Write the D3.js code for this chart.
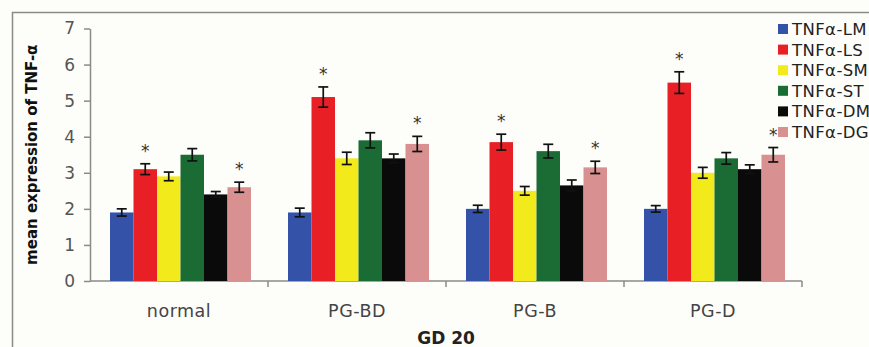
<!DOCTYPE html>
<html>
<head>
<meta charset="utf-8">
<script src="https://cdn.jsdelivr.net/npm/d3@7"></script>
<style>
  body { margin:0; background:#fdfdfa; }
  svg { display:block; }
</style>
</head>
<body>
<svg id="chart" width="869" height="347"></svg>
<script>
// data
const categories = ['normal', 'PG-BD', 'PG-B', 'PG-D'];
const seriesNames = ['TNF\u03b1-LM', 'TNF\u03b1-LS', 'TNF\u03b1-SM', 'TNF\u03b1-ST', 'TNF\u03b1-DM', 'TNF\u03b1-DG'];
const seriesColors = ['#3352a8', '#e82026', '#f2ea1a', '#1b6b34', '#0a0a0a', '#d99090'];
const means = [
  [1.9, 1.9, 2.0, 2.0],    // LM
  [3.1, 5.1, 3.85, 5.5],   // LS
  [2.9, 3.4, 2.5, 3.0],    // SM
  [3.5, 3.9, 3.6, 3.4],    // ST
  [2.4, 3.4, 2.65, 3.1],   // DM
  [2.6, 3.8, 3.15, 3.5]    // DG
];
const errors = [
  [0.1, 0.12, 0.1, 0.09],
  [0.15, 0.28, 0.22, 0.3],
  [0.12, 0.17, 0.12, 0.15],
  [0.17, 0.21, 0.19, 0.16],
  [0.08, 0.12, 0.15, 0.12],
  [0.14, 0.21, 0.17, 0.2]
];
const marked = [
  [0, 0, 0, 0],
  [1, 1, 1, 1],
  [0, 0, 0, 0],
  [0, 0, 0, 0],
  [0, 0, 0, 0],
  [1, 1, 1, 1]
];
const yTicks = [0, 1, 2, 3, 4, 5, 6, 7];

const svg = d3.select('#chart');
const m = {left: 90, right: 67, top: 28.5, bottom: 66};
const W = 869, H = 347;
const font = '"DejaVu Sans", Verdana, sans-serif';

// outer frame
svg.append('rect')
  .attr('x', 12.5).attr('y', 12.5)
  .attr('width', 870).attr('height', 360)
  .attr('fill', 'none').attr('stroke', '#8a8a8a').attr('stroke-width', 1.5);

const x0 = d3.scaleBand().domain(categories).range([m.left, W - m.right]);
const x1 = d3.scaleBand().domain(d3.range(seriesNames.length)).range([20, 161]);
const y = d3.scaleLinear().domain([0, 7]).range([H - m.bottom, m.top]);

// axes
const yAxis = svg.append('g')
  .attr('transform', `translate(${m.left},0)`)
  .call(d3.axisLeft(y).tickValues(yTicks).tickFormat(d3.format('d'))
    .tickSize(6).tickPadding(9).tickSizeOuter(0));
yAxis.select('.domain').attr('stroke', '#8a8a8a').attr('stroke-width', 1.5);
yAxis.selectAll('.tick line').attr('stroke', '#8a8a8a').attr('stroke-width', 1.5);
yAxis.selectAll('.tick text')
  .attr('font-family', font)
  .attr('font-size', 17).attr('fill', '#555');

const xAxis = svg.append('g')
  .attr('transform', `translate(0,${y(0)})`);
xAxis.append('line')
  .attr('x1', m.left).attr('x2', W - m.right)
  .attr('stroke', '#8a8a8a').attr('stroke-width', 1.5);
xAxis.selectAll('line.div')
  .data(categories.map(c => x0(c) + x0.bandwidth()))
  .join('line')
  .attr('class', 'div')
  .attr('x1', d => d).attr('x2', d => d)
  .attr('y1', 0).attr('y2', 6)
  .attr('stroke', '#8a8a8a').attr('stroke-width', 1.5);
xAxis.selectAll('text')
  .data(categories)
  .join('text')
  .attr('x', d => x0(d) + x0.bandwidth() / 2)
  .attr('y', 36)
  .attr('text-anchor', 'middle')
  .attr('font-family', font)
  .attr('font-size', 17.5).attr('letter-spacing', 0.5).attr('fill', '#444')
  .text(d => d);

const flat = [];
seriesNames.forEach((s, si) => categories.forEach((c, ci) => {
  flat.push({s: si, c: c, v: means[si][ci], e: errors[si][ci], star: marked[si][ci]});
}));

// bars
svg.append('g').selectAll('rect')
  .data(flat)
  .join('rect')
  .attr('x', d => x0(d.c) + x1(d.s))
  .attr('y', d => y(d.v))
  .attr('width', x1.bandwidth())
  .attr('height', d => y(0) - y(d.v))
  .attr('fill', d => seriesColors[d.s]);

// error bars
const eb = svg.append('g').attr('stroke', '#111').attr('stroke-width', 1.7);
flat.forEach(d => {
  const cx = x0(d.c) + x1(d.s) + x1.bandwidth() / 2;
  eb.append('line').attr('x1', cx).attr('x2', cx).attr('y1', y(d.v + d.e)).attr('y2', y(d.v - d.e));
  eb.append('line').attr('x1', cx - 5).attr('x2', cx + 5).attr('y1', y(d.v + d.e)).attr('y2', y(d.v + d.e));
  eb.append('line').attr('x1', cx - 5).attr('x2', cx + 5).attr('y1', y(d.v - d.e)).attr('y2', y(d.v - d.e));
});

// significance marks
svg.append('g').selectAll('text')
  .data(flat.filter(d => d.star))
  .join('text')
  .attr('x', d => x0(d.c) + x1(d.s) + x1.bandwidth() / 2)
  .attr('y', d => y(d.v + d.e) - 7)
  .attr('text-anchor', 'middle')
  .attr('font-family', font)
  .attr('font-size', 17).attr('fill', '#333')
  .text('*');

// titles
svg.append('text')
  .attr('transform', `translate(37,${(y(0) + y(7)) / 2}) rotate(-90)`)
  .attr('text-anchor', 'middle')
  .attr('font-family', font)
  .attr('font-weight', 'bold').attr('font-size', 15).attr('fill', '#111')
  .text('mean expression of TNF-\u03b1');

svg.append('text')
  .attr('x', (m.left + W - m.right) / 2).attr('y', 344)
  .attr('text-anchor', 'middle')
  .attr('font-family', font)
  .attr('font-weight', 'bold').attr('font-size', 17).attr('fill', '#222')
  .text('GD 20');

// legend
const legend = svg.append('g').attr('transform', 'translate(778,24)');
const li = legend.selectAll('g')
  .data(seriesNames)
  .join('g')
  .attr('transform', (d, i) => `translate(0,${i * 20.6})`);
li.append('rect')
  .attr('width', 10).attr('height', 10)
  .attr('fill', (d, i) => seriesColors[i]);
li.append('text')
  .attr('x', 14).attr('y', 11)
  .attr('font-family', font)
  .attr('font-size', 16.5).attr('letter-spacing', 0.4).attr('fill', '#222')
  .text(d => d);
</script>
</body>
</html>
